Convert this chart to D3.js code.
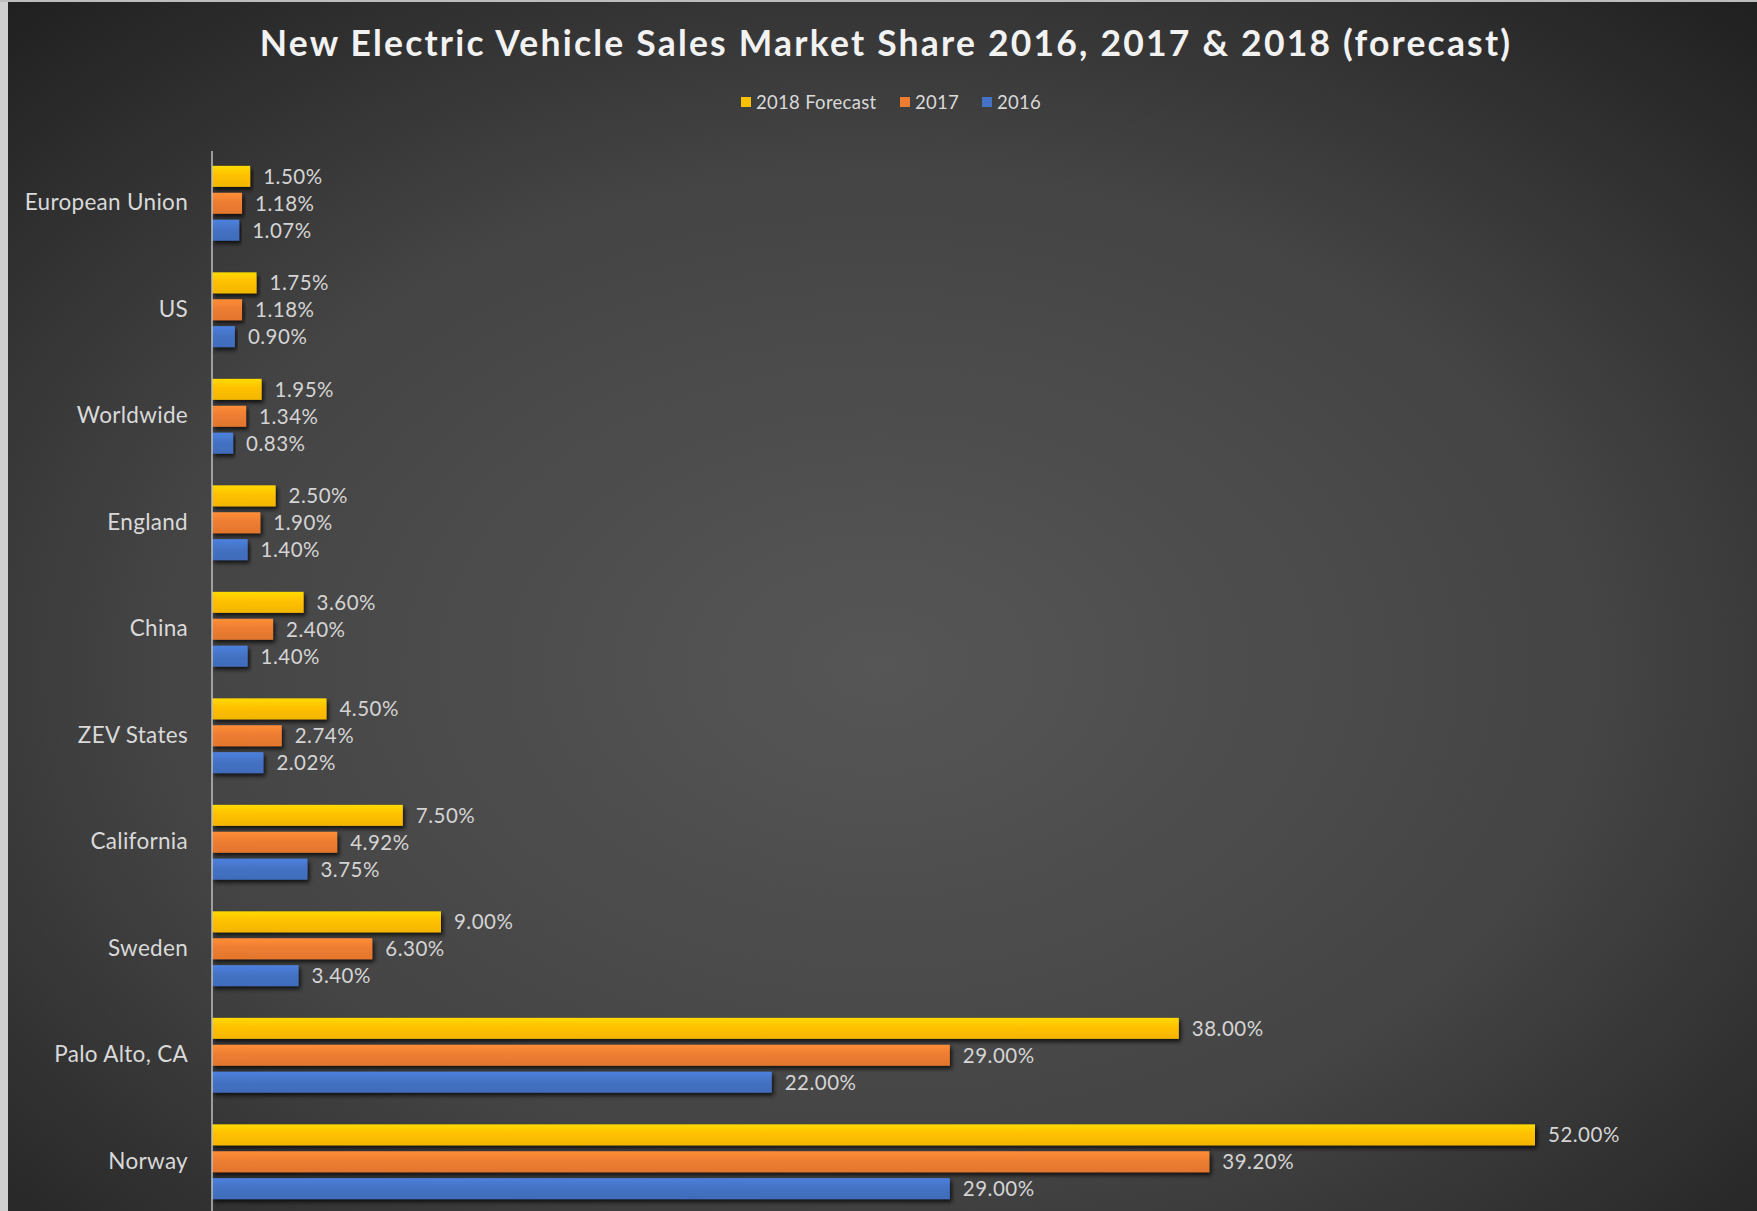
<!DOCTYPE html>
<html>
<head>
<meta charset="utf-8">
<script src="https://cdn.jsdelivr.net/npm/d3@7"></script>
<style>
  html, body { margin: 0; padding: 0; background: #2b2b2b; }
  svg { display: block; }
</style>
</head>
<body>
<svg id="chart" width="1757" height="1211"></svg>
<script>
// Market share of new EV sales, per region (percent)
const categories = ["European Union", "US", "Worldwide", "England", "China",
                    "ZEV States", "California", "Sweden", "Palo Alto, CA", "Norway"];
const seriesNames = ["2018 Forecast", "2017", "2016"];
const forecast2018 = [1.50, 1.75, 1.95, 2.50, 3.60, 4.50, 7.50, 9.00, 38.00, 52.00];
const sales2017   = [1.18, 1.18, 1.34, 1.90, 2.40, 2.74, 4.92, 6.30, 29.00, 39.20];
const sales2016   = [1.07, 0.90, 0.83, 1.40, 1.40, 2.02, 3.75, 3.40, 22.00, 29.00];
const seriesColors = ["#FFC000", "#ED7D31", "#4472C4"];
const titleText = "New Electric Vehicle Sales Market Share 2016, 2017 & 2018 (forecast)";

const W = 1757, H = 1211;
const svg = d3.select("#chart");
const defs = svg.append("defs");

// Dark vignette background
const bg = defs.append("radialGradient").attr("id", "bg")
  .attr("cx", "50%").attr("cy", "55%").attr("r", "75%");
bg.append("stop").attr("offset", "0%").attr("stop-color", "#565656");
bg.append("stop").attr("offset", "55%").attr("stop-color", "#444444");
bg.append("stop").attr("offset", "100%").attr("stop-color", "#1f1f1f");
svg.append("rect").attr("width", W).attr("height", H).attr("fill", "url(#bg)");
// thin light frame on the left and top edges
svg.append("rect").attr("x", 0).attr("y", 0).attr("width", 8).attr("height", H).attr("fill", "#cfcfcf");
svg.append("rect").attr("x", 0).attr("y", 0).attr("width", W).attr("height", 2).attr("fill", "#bdbdbd");

// Bar shading: slight top highlight + drop shadow
seriesColors.forEach((c, i) => {
  const g = defs.append("linearGradient").attr("id", "bar" + i)
    .attr("x1", 0).attr("y1", 0).attr("x2", 0).attr("y2", 1);
  g.append("stop").attr("offset", "0%").attr("stop-color", d3.color(c).brighter(0.35));
  g.append("stop").attr("offset", "45%").attr("stop-color", c);
  g.append("stop").attr("offset", "100%").attr("stop-color", d3.color(c).darker(0.15));
});
const sh = defs.append("filter").attr("id", "shadow")
  .attr("x", "-5%").attr("y", "-30%").attr("width", "115%").attr("height", "190%");
sh.append("feDropShadow").attr("dx", 2).attr("dy", 3).attr("stdDeviation", 2)
  .attr("flood-color", "#000").attr("flood-opacity", 0.75);

const seriesValues = [forecast2018, sales2017, sales2016];
const rows = categories.map((c, i) => ({
  name: c,
  values: seriesNames.map((s, k) => ({ series: s, k, value: seriesValues[k][i] }))
}));

// Scales
const x = d3.scaleLinear().domain([0, 52]).range([212, 1535]);
const y = d3.scaleBand().domain(categories).range([150, 1215])
  .paddingInner(0.242).paddingOuter(0.121);
const ys = d3.scaleBand().domain(seriesNames).range([0, y.bandwidth()])
  .paddingInner(0.22).paddingOuter(0.11);

const font = "Lato, 'Open Sans', sans-serif";

// Title
svg.append("text")
  .attr("x", 886).attr("y", 56)
  .attr("text-anchor", "middle")
  .attr("font-family", font).attr("font-weight", 700)
  .attr("font-size", 35.5).attr("letter-spacing", 2.2)
  .attr("fill", "#f2f2f2")
  .text(titleText);

// Legend
const legendX = [741, 900, 982];
const legend = svg.append("g").attr("font-family", font).attr("font-size", 18.5)
  .attr("letter-spacing", 0.3).attr("fill", "#d9d9d9");
seriesNames.forEach((s, k) => {
  legend.append("rect").attr("x", legendX[k]).attr("y", 97).attr("width", 10).attr("height", 10)
    .attr("fill", seriesColors[k]);
  legend.append("text").attr("x", legendX[k] + 15).attr("y", 109).text(s);
});

// Bars
const groups = svg.append("g").selectAll("g").data(rows).join("g")
  .attr("transform", d => `translate(0,${y(d.name)})`);

groups.selectAll("rect").data(d => d.values).join("rect")
  .attr("x", x(0))
  .attr("y", d => ys(d.series))
  .attr("width", d => x(d.value) - x(0))
  .attr("height", ys.bandwidth())
  .attr("fill", d => `url(#bar${d.k})`)
  .attr("filter", "url(#shadow)");

groups.selectAll("text").data(d => d.values).join("text")
  .attr("x", d => x(d.value) + 13)
  .attr("y", d => ys(d.series) + ys.bandwidth() / 2)
  .attr("dy", "0.36em")
  .attr("font-family", font).attr("font-size", 20.5).attr("letter-spacing", 0.5)
  .attr("fill", "#d4d4d4")
  .text(d => d.value.toFixed(2) + "%");

// Category axis
const axis = svg.append("g").attr("transform", `translate(${x(0)},0)`)
  .call(d3.axisLeft(y).tickSize(0).tickPadding(24));
axis.select(".domain").remove();
axis.selectAll("text")
  .attr("font-family", font).attr("font-size", 22.5).attr("letter-spacing", 0.3)
  .attr("fill", "#d9d9d9");
svg.append("line")
  .attr("x1", x(0)).attr("x2", x(0)).attr("y1", 151).attr("y2", H)
  .attr("stroke", "#bfbfbf").attr("stroke-width", 1.5);
</script>
</body>
</html>
